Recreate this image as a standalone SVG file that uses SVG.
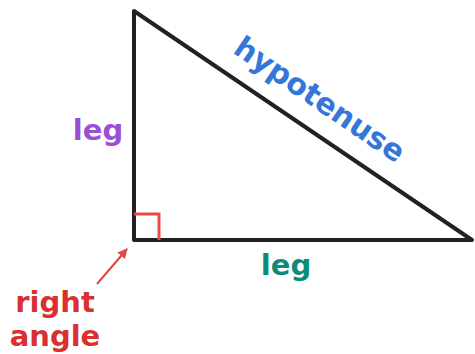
<svg xmlns="http://www.w3.org/2000/svg" width="475" height="354" viewBox="0 0 475 354">
<style>
.lbl{font-family:"DejaVu Sans",sans-serif;font-weight:bold;font-size:29px;text-anchor:middle}
</style>
<defs>
<marker id="ah" viewBox="0 0 10 10" refX="9" refY="5" markerWidth="5" markerHeight="5" orient="auto" markerUnits="strokeWidth">
<path d="M0,0 L10,5 L0,10 z" fill="#e04848"/>
</marker>
</defs>
<rect width="475" height="354" fill="#fff"/>
<g id="triangle">
<polygon points="134,11 134,240 472,240" fill="none" stroke="#222" stroke-width="4" stroke-linejoin="round"/>
</g>
<g id="right-angle-mark">
<polyline points="134,214 159,214 159,240" fill="none" stroke="#e84a4a" stroke-width="3"/>
</g>
<g id="connectors">
<line x1="97" y1="284" x2="127" y2="249" stroke="#e04848" stroke-width="2" marker-end="url(#ah)"/>
</g>
<g id="labels">
<text class="lbl" x="98" y="140" fill="#9b4fd8">leg</text>
<text class="lbl" x="286" y="275" fill="#0e8a78">leg</text>
<text class="lbl" fill="#3577d9" style="font-size:30px" transform="translate(314,108) rotate(34.1)">hypotenuse</text>
<text class="lbl" x="55" y="312" fill="#d93030">right</text>
<text class="lbl" x="55" y="346" fill="#d93030">angle</text>
</g>
</svg>
